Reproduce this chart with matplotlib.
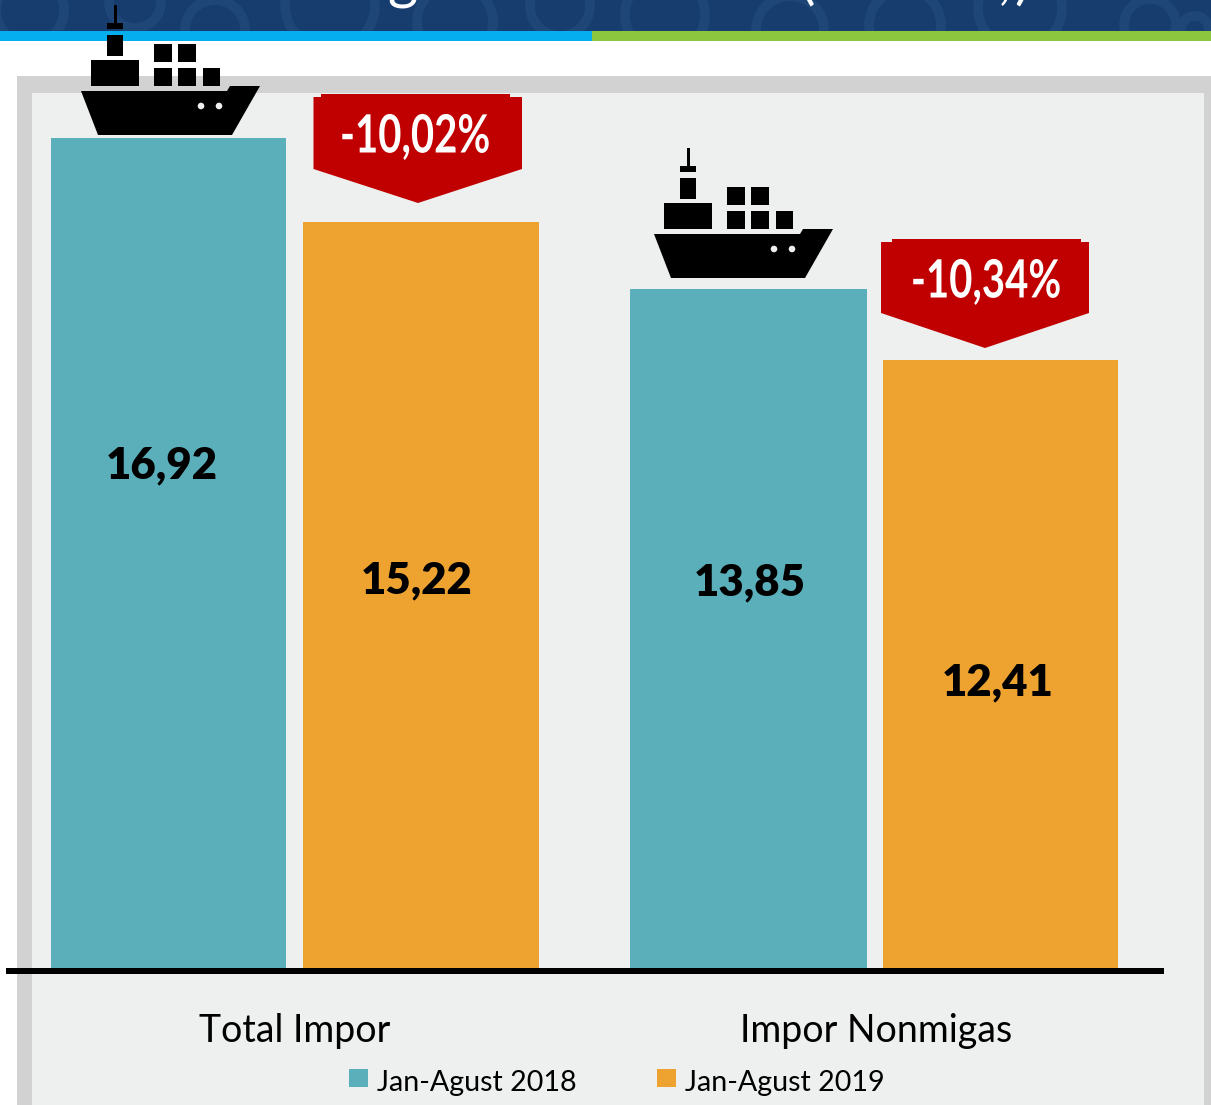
import matplotlib

matplotlib.use("Agg")
import matplotlib.pyplot as plt
from matplotlib.patches import Circle, Polygon, Rectangle
from matplotlib.patheffects import AbstractPathEffect
from matplotlib.transforms import Affine2D


W, H = 1211, 1105
BASE_Y = 968
PX_PER_UNIT = 49.03

CATEGORIES = ["Total Impor", "Impor Nonmigas"]
SERIES = ["Jan-Agust 2018", "Jan-Agust 2019"]
VALUES_2018 = [16.92, 13.85]
VALUES_2019 = [15.22, 12.41]
CHANGES = ["-10,02%", "-10,34%"]

TEAL = "#5AAFBA"
ORANGE = "#EEA331"
RED = "#C00000"
PANEL = "#EEF0EF"
BORDER = "#D2D2D2"
FONT = ["Lato", "DejaVu Sans"]


class SqueezeX(AbstractPathEffect):
    # no narrow bold font installed, so squeeze the glyphs around a centre (in pixels)
    def __init__(self, factor, center):
        super().__init__()
        self.factor = factor
        self.center = center

    def draw_path(self, renderer, gc, tpath, affine, rgbFace=None):
        squeeze = Affine2D().translate(-self.center, 0).scale(self.factor, 1).translate(self.center, 0)
        renderer.draw_path(gc, tpath, affine + squeeze, rgbFace)


def rect(ax, x0, y0, x1, y1, color, **kw):
    ax.add_patch(Rectangle((x0, y0), x1 - x0, y1 - y0, facecolor=color, edgecolor="none", **kw))


def draw_ship(ax, dx, dy):
    boxes = [
        (114, 5, 117, 24),
        (106.5, 23, 123, 29),
        (106.5, 35, 123, 55.5),
        (91, 60, 138.5, 86),
        (153.5, 44, 171.5, 62),
        (178, 44, 196, 62),
        (153.5, 68, 171.5, 86),
        (178, 68, 196, 86),
        (203, 68, 220, 86),
    ]
    for x0, y0, x1, y1 in boxes:
        rect(ax, x0 + dx, y0 + dy, x1 + dx, y1 + dy, "black")
    hull = [(81, 91), (227, 91), (230, 86), (260, 86), (232, 135), (98, 135)]
    ax.add_patch(Polygon([(x + dx, y + dy) for x, y in hull], facecolor="black", edgecolor="none"))
    for x in (201, 219):
        ax.add_patch(Circle((x + dx, 106 + dy), 3.3, facecolor=PANEL, edgecolor="none"))


def draw_callout(ax, left, right, inner_l, inner_r, top, tip_x, side_y, tip_y, text, text_x):
    shoulder = top + 3
    pts = [
        (inner_l, top), (inner_r, top), (inner_r, shoulder), (right, shoulder),
        (right, side_y), (tip_x, tip_y), (left, side_y), (left, shoulder), (inner_l, shoulder),
    ]
    ax.add_patch(Polygon(pts, facecolor=RED, edgecolor="none"))
    ax.text(text_x, top + 43, text, color="white", fontsize=38, fontweight="bold",
            family=FONT, ha="center", va="center", path_effects=[SqueezeX(0.76, text_x)])


fig = plt.figure(figsize=(W / 100, H / 100), dpi=100, facecolor="white")

bg = fig.add_axes([0, 0, 1, 1], zorder=0)
bg.set_xlim(0, W)
bg.set_ylim(H, 0)
bg.axis("off")

# header strip, cut off at the top like the source image
rect(bg, 0, 0, W, 31, "#163D6E")
for cx, cy, r in [(30, 10, 34), (135, 2, 26), (215, 30, 30), (330, 5, 45), (455, 22, 38),
                  (560, 6, 30), (665, 15, 40), (790, 30, 34), (905, 25, 36), (1020, 8, 42),
                  (1150, 25, 26), (1195, 30, 14)]:
    c = Circle((cx, cy), r, facecolor="none", edgecolor="#1E4777", linewidth=7)
    bg.add_patch(c)
    c.set_clip_path(Rectangle((0, 0), W, 31, transform=bg.transData))
rect(bg, 0, 31, 592, 41, "#05AEEE")
rect(bg, 592, 31, W, 41, "#8CC63F")
for x, s in [(402, "g"), (807, "("), (1005, ","), (1022, ")")]:
    bg.text(x, -3, s, color="white", fontsize=42, family=FONT, ha="center", va="baseline")

# panel
rect(bg, 17, 76, W, H, BORDER)
rect(bg, 32, 93, 1204, H, PANEL)

# bars
ax = fig.add_axes([0, 1 - BASE_Y / H, 1, BASE_Y / H], zorder=1)
ax.set_xlim(0, W)
ax.set_ylim(0, BASE_Y / PX_PER_UNIT)
ax.axis("off")
ax.bar([51, 630], VALUES_2018, width=[235, 237], align="edge", color=TEAL)
ax.bar([303, 883], VALUES_2019, width=[236, 235], align="edge", color=ORANGE)

top = fig.add_axes([0, 0, 1, 1], zorder=2)
top.set_xlim(0, W)
top.set_ylim(H, 0)
top.axis("off")

rect(top, 6, BASE_Y, 1164, BASE_Y + 6, "black")

labels = VALUES_2018 + VALUES_2019
label_xy = [(162, 465), (750, 582), (417, 580), (998, 682)]
for v, (x, y) in zip(labels, label_xy):
    top.text(x, y, f"{v:.2f}".replace(".", ","), fontsize=31.5, fontweight=800, family=FONT,
             ha="center", va="center", color="black")

draw_ship(top, 0, 0)
draw_ship(top, 573, 143)
draw_callout(top, 313.5, 522, 321, 510, 94, 418, 169, 203, CHANGES[0], 415)
draw_callout(top, 881, 1089, 892, 1081, 239, 985, 313, 348, CHANGES[1], 986)

for name, x in zip(CATEGORIES, [295, 876]):
    top.text(x, 1031, name, fontsize=27, family=FONT, ha="center", va="center", color="black")

for name, color, x in zip(SERIES, [TEAL, ORANGE], [349, 657]):
    rect(top, x, 1069, x + 19, 1087, color)
    top.text(x + 28, 1083, name, fontsize=20.6, family=FONT, ha="left", va="center", color="black")

fig.savefig("out.png", dpi=100)
plt.close(fig)
